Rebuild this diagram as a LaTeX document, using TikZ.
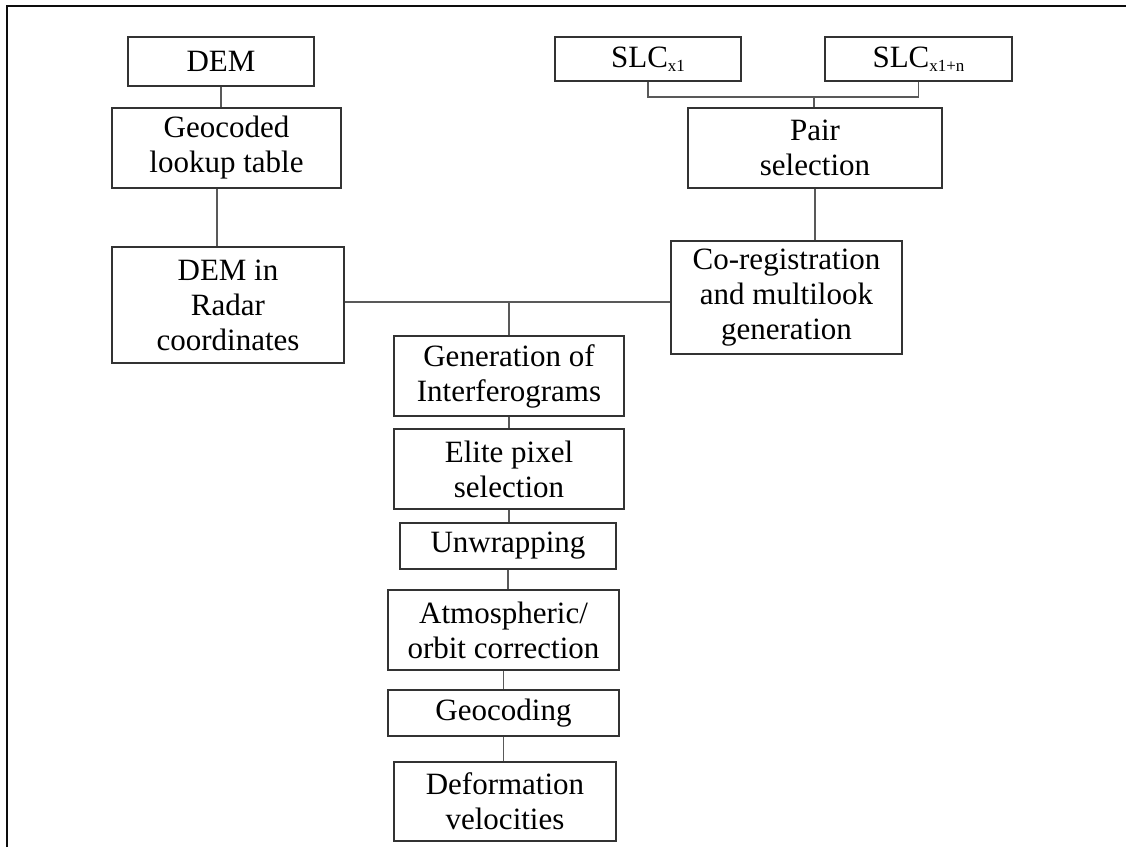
\documentclass[tikz,border=0pt]{standalone}
\usepackage{fontspec}
\setmainfont{Liberation Serif}
\usepackage{tikz}
\definecolor{reuna}{rgb}{0.2, 0.2, 0.2}
\definecolor{viiva}{rgb}{0.35, 0.35, 0.35}
\definecolor{kehys}{rgb}{0.05, 0.05, 0.05}
\newcommand{\alaindeksi}[1]{\raisebox{-0.3ex}{\fontsize{17}{17}\selectfont #1}}

\begin{document}
\begin{tikzpicture}[x=1pt, y=-1pt,
		box/.style={draw=reuna, line width=1.4pt, fill=white, align=center, inner sep=0pt,
			font=\fontsize{31}{35}\selectfont},
		link/.style={draw=viiva, line width=1.4pt}]
				\useasboundingbox (0,0) rectangle (1126,847);
				% cropped outer frame
				\draw[kehys, line width=2pt] (7,847) -- (7,5.5) -- (1126,5.5);
				% left branch
				\node[box, minimum width=186pt, minimum height=49pt] (dem) at (221,61.5) {DEM};
				\node[box, minimum width=229pt, minimum height=80pt] (geo) at (226.5,148) {Geocoded\\lookup table};
				\node[box, minimum width=232pt, minimum height=116pt] (radar) at (228,305) {DEM in\\Radar\\coordinates};
				% right branch
				\node[box, minimum width=186pt, minimum height=44pt] (slca) at (648,59) {SLC\alaindeksi{x1}};
				\node[box, minimum width=187pt, minimum height=44pt] (slcb) at (918.5,59) {SLC\alaindeksi{x1+n}};
				\node[box, minimum width=254pt, minimum height=80pt] (pair) at (815,148) {Pair\\selection};
				\node[box, minimum width=231pt, minimum height=113pt] (coreg) at (786.5,297.5) {Co-registration\\and multilook\\generation};
				% main chain
				\node[box, minimum width=230pt, minimum height=80pt] (gen) at (509,376) {Generation of\\Interferograms};
				\node[box, minimum width=230pt, minimum height=80pt] (elite) at (509,469) {Elite pixel\\selection};
				\node[box, minimum width=216pt, minimum height=46pt] (unwrap) at (508,546) {Unwrapping};
				\node[box, minimum width=231pt, minimum height=80pt] (atmo) at (503.5,630) {Atmospheric/\\orbit correction};
				\node[box, minimum width=231pt, minimum height=46pt] (geocod) at (503.5,713) {Geocoding};
				\node[box, minimum width=222pt, minimum height=79pt] (deform) at (505,801.5) {Deformation\\velocities};
				\coordinate (slcjoin) at (814,97);
				\coordinate (join) at (509,302);
				\draw[link] (dem.south) -- (dem.south |- geo.north);
				\draw[link] (geo.south) ++(-9.5,0) -- ++(0,57);
				\draw[link] (slca.south) |- (slcjoin) -| (slcb.south);
				\draw[link] (slcjoin) -- (slcjoin |- pair.north);
				\draw[link] (pair.south) -- (pair.south |- coreg.north);
				\draw[link] (radar.east |- join) -- (coreg.west |- join);
				\draw[link] (join) -- (gen.north);
				\draw[link] (gen.south) -- (elite.north);
				\draw[link] (elite.south) -- (elite.south |- unwrap.north);
				\draw[link] (unwrap.south) -- (unwrap.south |- atmo.north);
				\draw[link] (atmo.south) -- (geocod.north);
				\draw[link] (geocod.south) -- (geocod.south |- deform.north);
			\end{tikzpicture}
\end{document}
